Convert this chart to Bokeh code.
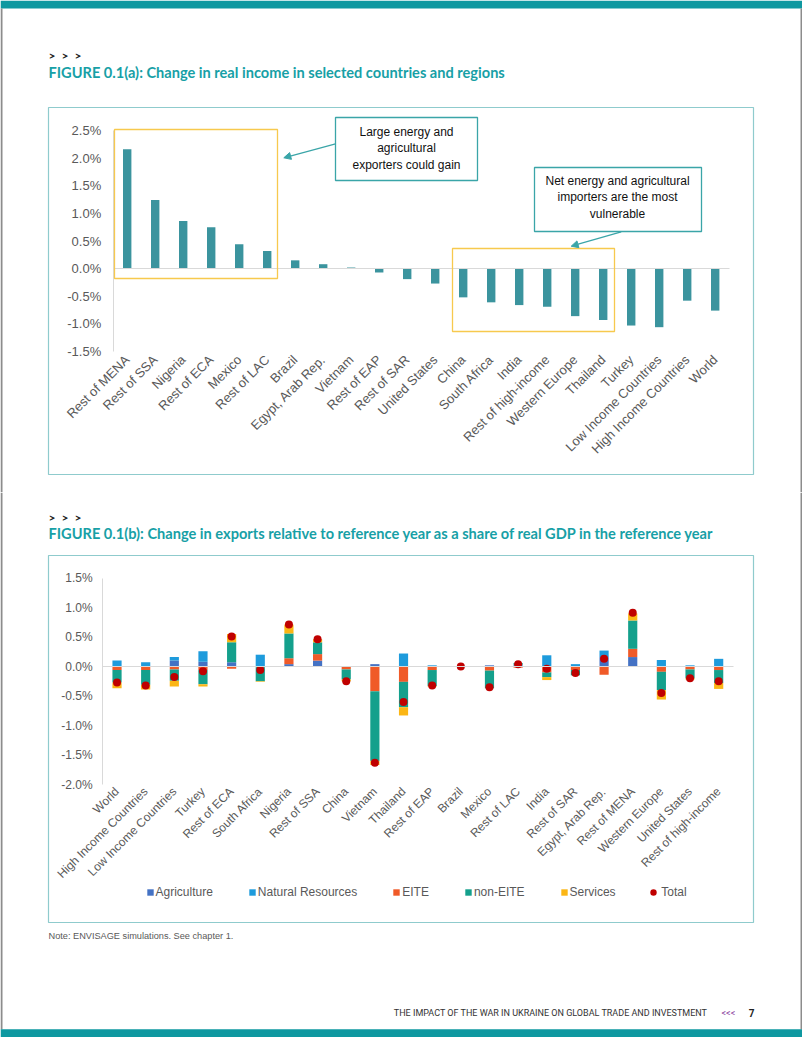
import numpy as np
from math import pi
from bokeh.plotting import figure
from bokeh.models import (ColumnDataSource, Range1d, FixedTicker, PrintfTickFormatter, LinearAxis,
                          BoxAnnotation, Label, Arrow, NormalHead, Legend, LegendItem)
from bokeh.layouts import column
from bokeh.embed import file_html
from bokeh.resources import INLINE

# ------------------------------------------------------------------ data
income_regions = ["Rest of MENA", "Rest of SSA", "Nigeria", "Rest of ECA", "Mexico", "Rest of LAC",
                  "Brazil", "Egypt, Arab Rep.", "Vietnam", "Rest of EAP", "Rest of SAR", "United States",
                  "China", "South Africa", "India", "Rest of high-income", "Western Europe", "Thailand",
                  "Turkey", "Low Income Countries", "High Income Countries", "World"]
income_change = [2.16, 1.24, 0.86, 0.75, 0.44, 0.32, 0.15, 0.08, 0.02, -0.07, -0.19, -0.27,
                 -0.52, -0.61, -0.66, -0.69, -0.86, -0.93, -1.03, -1.06, -0.58, -0.76]
income_ticks = [-1.5, -1.0, -0.5, 0.0, 0.5, 1.0, 1.5, 2.0, 2.5]

export_regions = ["World", "High Income Countries", "Low Income Countries", "Turkey", "Rest of ECA",
                  "South Africa", "Nigeria", "Rest of SSA", "China", "Vietnam", "Thailand", "Rest of EAP",
                  "Brazil", "Mexico", "Rest of LAC", "India", "Rest of SAR", "Egypt, Arab Rep.",
                  "Rest of MENA", "Western Europe", "United States", "Rest of high-income"]
agriculture = [0.00, 0.00, 0.10, 0.08, 0.07, 0.00, 0.04, 0.10, 0.00, 0.04, 0.00,
               0.00, 0.00, 0.02, 0.02, 0.00, 0.00, 0.16, 0.16, 0.00, 0.00, 0.00]
natural_resources = [0.10, 0.07, 0.06, 0.18, 0.00, 0.20, 0.00, 0.00, 0.00, 0.00, 0.22,
                     0.02, 0.00, 0.00, 0.01, 0.19, 0.04, 0.11, 0.00, 0.11, 0.02, 0.13]
eite = [-0.06, -0.06, -0.05, -0.06, -0.04, -0.01, 0.10, 0.11, -0.05, -0.42, -0.26,
        -0.06, 0.00, -0.07, -0.02, -0.10, -0.06, -0.14, 0.14, -0.09, -0.05, -0.06]
non_eite = [-0.21, -0.25, -0.19, -0.24, 0.34, -0.24, 0.42, 0.20, -0.17, -1.18, -0.43,
            -0.27, 0.00, -0.30, 0.03, -0.08, -0.09, 0.00, 0.48, -0.31, -0.15, -0.22]
services = [-0.10, -0.08, -0.10, -0.04, 0.14, -0.01, 0.15, 0.05, -0.03, -0.07, -0.14,
            -0.01, 0.00, 0.00, 0.00, -0.05, 0.00, 0.00, 0.12, -0.16, -0.02, -0.10]
total = [-0.27, -0.32, -0.18, -0.08, 0.51, -0.06, 0.71, 0.46, -0.25, -1.63, -0.60,
         -0.32, 0.00, -0.35, 0.04, -0.04, -0.11, 0.13, 0.91, -0.45, -0.20, -0.25]
export_ticks = [-2.0, -1.5, -1.0, -0.5, 0.0, 0.5, 1.0, 1.5]

series_names = ["Agriculture", "Natural Resources", "EITE", "non-EITE", "Services"]
series_values = [agriculture, natural_resources, eite, non_eite, services]

# ------------------------------------------------------------------ styles
TEAL = "#17a0a6"
PAGE_TEAL = "#0e98a0"
BAR_TEAL = "#3b949e"
BOX_TEAL = "#8fcbcd"
CALLOUT = "#3aa5a8"
YELLOW = "#f7c94e"
GREY = "#595959"
AXIS_GREY = "#d9d9d9"
PAGE_EDGE = "#8c8c8c"
series_colors = ["#4472c4", "#1e9bdc", "#f05a28", "#14a08c", "#fbb615"]
TOTAL_RED = "#c00000"
W = 802


def add_text(p, x, y, text, size, color, font="Liberation Sans", style="normal",
             align="left", baseline="middle"):
    p.add_layout(Label(x=x, y=y, x_units="canvas", y_units="canvas", text=text, text_font=font,
                       text_font_size=f"{size}px", text_color=color, text_font_style=style,
                       text_align=align, text_baseline=baseline, text_line_height=1.2,
                       level="overlay"))


def add_box(p, l, r, t, b, line_color, line_width=1.0, fill_color=None, fill_alpha=0.0):
    p.add_layout(BoxAnnotation(left=l, right=r, top=t, bottom=b, left_units="canvas",
                               right_units="canvas", top_units="canvas", bottom_units="canvas",
                               line_color=line_color, line_width=line_width, line_alpha=1.0,
                               fill_color=fill_color, fill_alpha=fill_alpha, level="overlay"))


def make_chart(height, regions, ticks, x0_px, step_px, top_px, bottom_px, label_size,
               y_standoff, x_standoff):
    """Whole canvas is the frame; axes are pinned with fixed_location."""
    n = len(regions)
    ypx = (bottom_px - top_px) / (ticks[-1] - ticks[0])
    xr = Range1d(-x0_px / step_px, (W - x0_px) / step_px)
    yr = Range1d(ticks[-1] - (height - top_px) / ypx, ticks[-1] + top_px / ypx)
    p = figure(width=W, height=height, x_range=xr, y_range=yr, x_axis_type=None, y_axis_type=None,
               output_backend="svg", toolbar_location=None, min_border=0,
               min_border_left=0, min_border_right=0, min_border_top=0, min_border_bottom=0)
    p.outline_line_color = None
    p.background_fill_color = "white"
    p.border_fill_color = "white"

    yax = LinearAxis(fixed_location=0, bounds=(ticks[0], ticks[-1]), ticker=FixedTicker(ticks=ticks),
                     formatter=PrintfTickFormatter(format="%.1f%%"),
                     axis_line_color=AXIS_GREY, major_tick_line_color=None, minor_tick_line_color=None,
                     major_tick_out=0, major_tick_in=0, major_label_standoff=y_standoff,
                     major_label_text_font="Liberation Sans", major_label_text_font_size=f"{label_size}px",
                     major_label_text_color=GREY)
    p.add_layout(yax, "left")

    centers = [i + 0.5 for i in range(n)]
    xax = LinearAxis(fixed_location=ticks[0], ticker=FixedTicker(ticks=centers),
                     major_label_overrides={c: r for c, r in zip(centers, regions)},
                     axis_line_color=None, major_tick_line_color=None, minor_tick_line_color=None,
                     major_tick_out=0, major_tick_in=0, major_label_standoff=x_standoff,
                     major_label_orientation=pi / 4,
                     major_label_text_font="Liberation Sans", major_label_text_font_size=f"{label_size}px",
                     major_label_text_color=GREY)
    p.add_layout(xax, "below")

    zero_ax = LinearAxis(fixed_location=0, bounds=(0, n), ticker=FixedTicker(ticks=[]),
                         axis_line_color=AXIS_GREY, axis_line_width=1,
                         major_tick_line_color=None, minor_tick_line_color=None,
                         major_label_text_alpha=0)
    p.add_layout(zero_ax, "below")

    def to_data(cx, cy):
        return (cx - x0_px) / step_px, ticks[-1] - (cy - top_px) / ypx

    return p, centers, to_data


# ------------------------------------------------------------------ figure (a)   page y 0..492
HA = 492
pa, centers_a, a_data = make_chart(HA, income_regions, income_ticks, 112.7, 28.0, 130, 351, 13, 12, 6)
src_a = ColumnDataSource(dict(x=centers_a, change=income_change))
pa.vbar(x="x", top="change", bottom=0, width=0.3, source=src_a, fill_color=BAR_TEAL, line_color=None)

# page frame
add_box(pa, 0, W, 0, 8, None, 0, fill_color=PAGE_TEAL, fill_alpha=1.0)
add_box(pa, 0, 2, 8, HA, None, 0, fill_color=PAGE_EDGE, fill_alpha=1.0)
add_box(pa, 800, W, 8, HA, None, 0, fill_color=PAGE_EDGE, fill_alpha=1.0)

for gx in (48, 61, 74):
    add_text(pa, gx, 55, ">", 12, "#222222", font="Lato", style="bold")
add_text(pa, 48, 72, "FIGURE 0.1(a): Change in real income in selected countries and regions",
         14.6, TEAL, font="Lato", style="bold")
add_box(pa, 48, 753, 107, 474, BOX_TEAL, 1.2)

# highlight frames
add_box(pa, 114, 277, 129, 278, YELLOW, 1.3)
add_box(pa, 452, 614, 248, 331, YELLOW, 1.3)

# callouts
for (sx, sy), (ex, ey) in [((335, 143.3), (283.3, 157.3)), ((620.7, 231.3), (570.7, 245.7))]:
    x0, y0 = a_data(sx, sy)
    x1, y1 = a_data(ex, ey)
    pa.add_layout(Arrow(x_start=x0, y_start=y0, x_end=x1, y_end=y1, line_color=CALLOUT, line_width=1.2,
                        end=NormalHead(size=7, fill_color=CALLOUT, line_color=CALLOUT), level="overlay"))
add_box(pa, 335, 477, 117, 180, CALLOUT, 1.3, fill_color="white", fill_alpha=1.0)
add_text(pa, 406, 148, "Large energy and\nagricultural\nexporters could gain", 12, "#111111",
         align="center")
add_box(pa, 534, 701, 167, 231, CALLOUT, 1.3, fill_color="white", fill_alpha=1.0)
add_text(pa, 617, 197, "Net energy and agricultural\nimporters are the most\nvulnerable", 12, "#111111",
         align="center")

# ------------------------------------------------------------------ figure (b)   page y 492..1037
HB = 545
pb, centers_b, b_data = make_chart(HB, export_regions, export_ticks, 102.2, 28.65, 85.5, 292.0, 12, 10, 5)

pos_base = np.zeros(len(export_regions))
neg_base = np.zeros(len(export_regions))
bar_renderers = []
for name, vals, col in zip(series_names, series_values, series_colors):
    v = np.array(vals, dtype=float)
    bottom = np.where(v >= 0, pos_base, neg_base + v)
    top = np.where(v >= 0, pos_base + v, neg_base)
    pos_base = pos_base + np.clip(v, 0, None)
    neg_base = neg_base + np.clip(v, None, 0)
    src = ColumnDataSource(dict(x=centers_b, bottom=bottom, top=top))
    bar_renderers.append(pb.vbar(x="x", bottom="bottom", top="top", width=0.32, source=src,
                                 fill_color=col, line_color=None))

src_t = ColumnDataSource(dict(x=centers_b, total=total))
r_total = pb.scatter(x="x", y="total", source=src_t, marker="circle", size=8,
                     fill_color=TOTAL_RED, line_color=None)

LEG_Y = 399.7
legend_common = dict(orientation="horizontal", padding=0, margin=0, border_line_color=None,
                     background_fill_alpha=0, label_text_font="Liberation Sans",
                     label_text_font_size="12px", label_text_color=GREY)
legend_bars = Legend(items=[LegendItem(label=n, renderers=[r]) for n, r in zip(series_names, bar_renderers)],
                     location=(145.5, HB - (LEG_Y + 7.5)), glyph_width=8, glyph_height=8,
                     label_height=8, label_standoff=2, spacing=35, **legend_common)
legend_total = Legend(items=[LegendItem(label="Total", renderers=[r_total])],
                      location=(645.3, HB - (LEG_Y + 8)), glyph_width=16, glyph_height=16,
                      label_height=16, label_standoff=0, spacing=0, **legend_common)
pb.add_layout(legend_bars)
pb.add_layout(legend_total)

# page frame
add_box(pb, 0, 2, 0, 537, None, 0, fill_color=PAGE_EDGE, fill_alpha=1.0)
add_box(pb, 800, W, 0, 537, None, 0, fill_color=PAGE_EDGE, fill_alpha=1.0)
add_box(pb, 0, W, 536.7, HB, None, 0, fill_color=PAGE_TEAL, fill_alpha=1.0)

for gx in (48, 61, 74):
    add_text(pb, gx, 24.7, ">", 12, "#222222", font="Lato", style="bold")
add_text(pb, 48, 41.3, "FIGURE 0.1(b): Change in exports relative to reference year as a share of real GDP in the reference year",
         14.6, TEAL, font="Lato", style="bold")
add_box(pb, 48, 753, 63, 430, BOX_TEAL, 1.2)
add_text(pb, 48, 443, "Note: ENVISAGE simulations. See chapter 1.", 9.2, GREY)
add_text(pb, 707, 520, "THE IMPACT OF THE WAR IN UKRAINE ON GLOBAL TRADE AND INVESTMENT", 9, "#333333",
         font="Roboto", align="right")
add_text(pb, 721, 520, "<<<", 9, "#8a3d9c", font="Roboto")
add_text(pb, 751, 520, "7", 10, "#222222", font="Roboto", style="bold", align="center")

layout = column(pa, pb, spacing=0)
open("out.html", "w").write(file_html(layout, INLINE))
